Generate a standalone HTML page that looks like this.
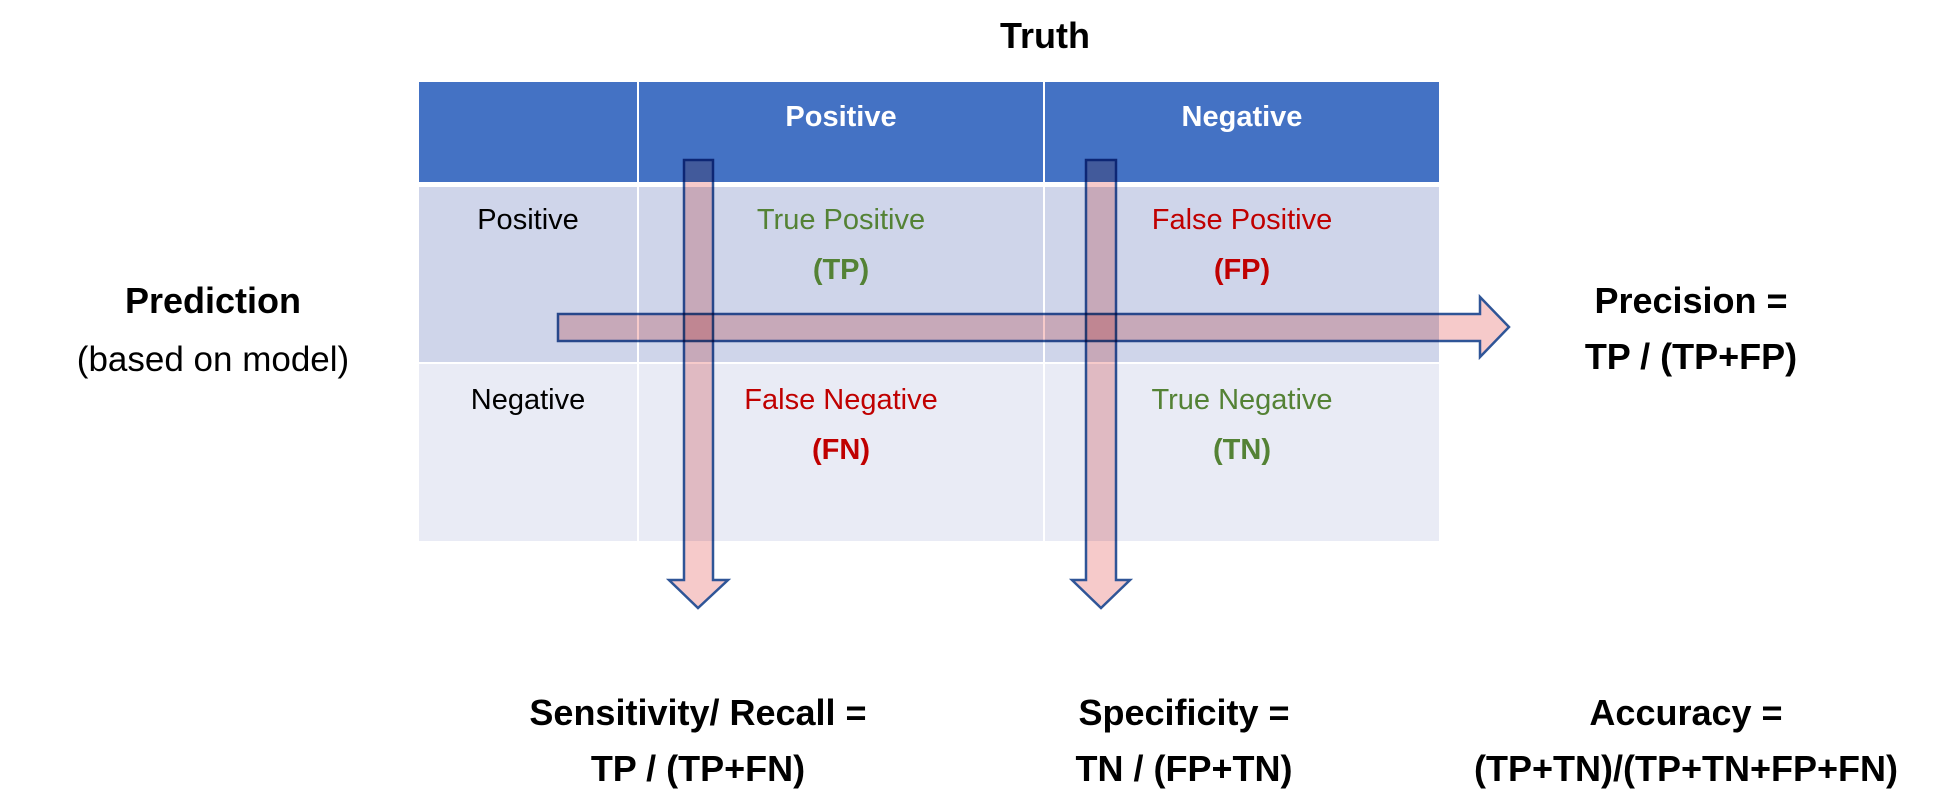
<!DOCTYPE html>
<html><head><style>
html,body{margin:0;padding:0;background:#fff;}
svg{display:block;}
text{font-family:"Liberation Sans",sans-serif;text-anchor:middle;}
.b{font-weight:bold;}
.ar{mix-blend-mode:multiply;}
</style></head><body>
<svg width="1955" height="810" viewBox="0 0 1955 810" xmlns="http://www.w3.org/2000/svg">
<rect x="0" y="0" width="1955" height="810" fill="#fff"/>
<rect x="419" y="82" width="1020" height="100" fill="#4472C4"/>
<rect x="419" y="187" width="1020" height="176" fill="#CFD5EA"/>
<rect x="419" y="363" width="1020" height="178" fill="#E9EBF5"/>
<line x1="419" y1="184.5" x2="1439" y2="184.5" stroke="#fff" stroke-width="5"/>
<line x1="419" y1="363" x2="1439" y2="363" stroke="#fff" stroke-width="2"/>
<line x1="638" y1="82" x2="638" y2="541" stroke="#fff" stroke-width="2"/>
<line x1="1044" y1="82" x2="1044" y2="541" stroke="#fff" stroke-width="2"/>

<text x="1045" y="48" class="b" font-size="36">Truth</text>
<text x="841" y="126" class="b" font-size="29" fill="#fff">Positive</text>
<text x="1242" y="126" class="b" font-size="29" fill="#fff">Negative</text>
<text x="528" y="229" font-size="29">Positive</text>
<text x="528" y="409" font-size="29">Negative</text>
<text x="841" y="229" font-size="29" fill="#548235">True Positive</text>
<text x="841" y="279" class="b" font-size="29" fill="#548235">(TP)</text>
<text x="1242" y="229" font-size="29" fill="#C00000">False Positive</text>
<text x="1242" y="279" class="b" font-size="29" fill="#C00000">(FP)</text>
<text x="841" y="409" font-size="29" fill="#C00000">False Negative</text>
<text x="841" y="459" class="b" font-size="29" fill="#C00000">(FN)</text>
<text x="1242" y="409" font-size="29" fill="#548235">True Negative</text>
<text x="1242" y="459" class="b" font-size="29" fill="#548235">(TN)</text>

<text x="213" y="313" class="b" font-size="36">Prediction</text>
<text x="213" y="371" font-size="35">(based on model)</text>
<text x="1691" y="313" class="b" font-size="36">Precision =</text>
<text x="1691" y="369" class="b" font-size="36">TP / (TP+FP)</text>
<text x="698" y="725" class="b" font-size="36">Sensitivity/ Recall =</text>
<text x="698" y="781" class="b" font-size="36">TP / (TP+FN)</text>
<text x="1184" y="725" class="b" font-size="36">Specificity =</text>
<text x="1184" y="781" class="b" font-size="36">TN / (FP+TN)</text>
<text x="1686" y="725" class="b" font-size="36">Accuracy =</text>
<text x="1686" y="781" class="b" font-size="36">(TP+TN)/(TP+TN+FP+FN)</text>

<g fill="#F6CACA" stroke="#2F5597" stroke-width="2.5">
<path class="ar" d="M558,314 L1480,314 L1480,297 L1509,327 L1480,357 L1480,341 L558,341 Z"/>
<path class="ar" d="M684,160 L713,160 L713,580 L728,580 L698,608 L669,580 L684,580 Z"/>
<path class="ar" d="M1086,160 L1116,160 L1116,580 L1130,580 L1101,608 L1072,580 L1086,580 Z"/>
</g>
</svg>
</body></html>
